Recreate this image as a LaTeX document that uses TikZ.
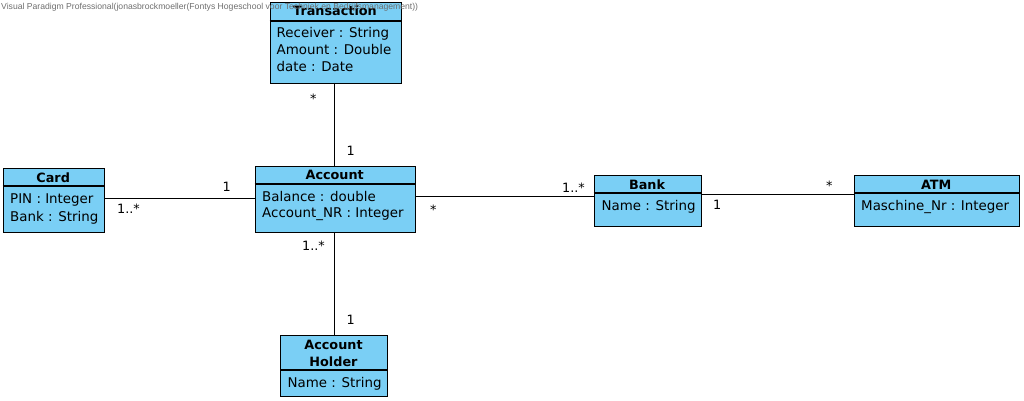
\documentclass[tikz,border=0pt]{standalone}
\usepackage{fontspec}
\setmainfont{DejaVu Sans}
\newfontfamily\wmfont{Liberation Sans}
\definecolor{clsfill}{RGB}{122,207,245}
\definecolor{wmgray}{RGB}{110,110,110}
\tikzset{
  cls/.style={draw=black, line width=1.2pt, fill=clsfill, rectangle, inner sep=0pt, anchor=north west},
  sep/.style={draw=black, line width=1.2pt},
  ttl/.style={anchor=base, inner sep=0pt, font=\fontsize{12.8}{16}\selectfont\bfseries},
  attr/.style={anchor=base west, inner sep=0pt, font=\fontsize{13.4}{16}\selectfont},
  mult/.style={anchor=base west, inner sep=0pt, font=\fontsize{12.8}{16}\selectfont},
  assoc/.style={draw=black, line width=1pt},
}
\begin{document}
\begin{tikzpicture}[x=1pt,y=-1pt]
\useasboundingbox (0,0) rectangle (1024,401);
% Transaction
\node[cls, minimum width=131.5pt, minimum height=81pt] (trans) at (269.5,2) {};
\draw[sep] (269.5,21) -- (401,21);
\node[ttl] (transT) at (335,15.3) {Transaction};
\node[attr] (transA1) at (276.5,37.5) {Receiver : String};
\node[attr] (transA2) at (276.5,55) {Amount : Double};
\node[attr] (transA3) at (276.5,71.7) {date : Date};
% Account
\node[cls, minimum width=160.5pt, minimum height=66pt] (acc) at (254.5,166) {};
\draw[sep] (254.5,184) -- (415,184);
\node[ttl] (accT) at (334.7,179) {Account};
\node[attr] (accA1) at (262,201) {Balance : double};
\node[attr] (accA2) at (262,217.7) {Account\_NR : Integer};
% Card
\node[cls, minimum width=101.5pt, minimum height=64pt] (card) at (2.5,168) {};
\draw[sep] (2.5,186) -- (104,186);
\node[ttl] (cardT) at (53.2,182) {Card};
\node[attr] (cardA1) at (10,203.3) {PIN : Integer};
\node[attr] (cardA2) at (10,221) {Bank : String};
% Bank
\node[cls, minimum width=107pt, minimum height=51pt] (bank) at (593.5,175) {};
\draw[sep] (593.5,193) -- (700.5,193);
\node[ttl] (bankT) at (647,189) {Bank};
\node[attr] (bankA1) at (601.5,210) {Name : String};
% ATM
\node[cls, minimum width=165.5pt, minimum height=51pt] (atm) at (853.5,175) {};
\draw[sep] (853.5,193) -- (1019,193);
\node[ttl] (atmT) at (936.2,189) {ATM};
\node[attr] (atmA1) at (861,210) {Maschine\_Nr : Integer};
% Account Holder
\node[cls, minimum width=107pt, minimum height=61pt] (hold) at (280,335) {};
\draw[sep] (280,370) -- (387,370);
\node[ttl] (holdT1) at (333.5,349) {Account};
\node[ttl] (holdT2) at (333.5,366.7) {Holder};
\node[attr] (holdA1) at (287.5,387) {Name : String};
% Associations
\coordinate (tb) at (334,83);
\draw[assoc] (tb) -- (tb |- acc.north);
\coordinate (cr) at (104,198);
\draw[assoc] (cr) -- (cr -| acc.west);
\coordinate (ar) at (415,196);
\draw[assoc] (ar) -- (ar -| bank.west);
\coordinate (br) at (700.5,194);
\draw[assoc] (br) -- (br -| atm.west);
\coordinate (ab) at (334,232);
\draw[assoc] (ab) -- (ab |- hold.north);
% Multiplicities
\node[mult] (m1) at (310,104) {*};
\node[mult] (m2) at (346.5,155.7) {1};
\node[mult] (m3) at (222.5,191.7) {1};
\node[mult] (m4) at (117,213.5) {1..*};
\node[mult] (m5) at (430,214) {*};
\node[mult] (m6) at (562,192) {1..*};
\node[mult] (m7) at (713,209) {1};
\node[mult] (m8) at (826,190) {*};
\node[mult] (m9) at (302,250.7) {1..*};
\node[mult] (m10) at (346.5,324) {1};
% Watermark
\node[anchor=base west, inner sep=0pt, text=wmgray] (wm) at (1,9.5) {\resizebox{417pt}{!}{\wmfont Visual Paradigm Professional(jonasbrockmoeller(Fontys Hogeschool voor Techniek en Bedrijfsmanagement))}};
\end{tikzpicture}
\end{document}
